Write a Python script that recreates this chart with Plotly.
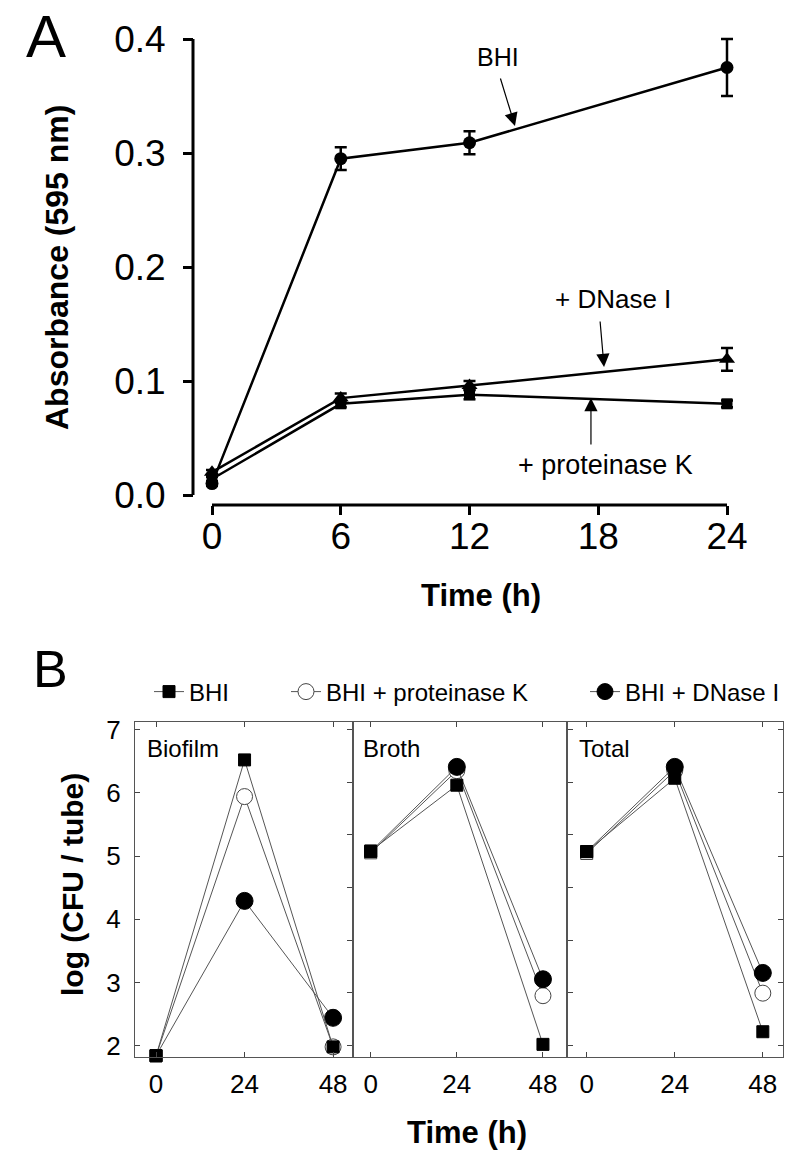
import plotly.graph_objects as go

W, H = 800, 1165
def fx(px): return px / W
def fy(py): return 1 - py / H

# ---------------- Panel A data ----------------
time_a = [0, 6, 12, 24]
bhi_a = [0.010, 0.295, 0.309, 0.375]
bhi_a_err = [0.002, 0.010, 0.010, 0.025]
dnase_a = [0.020, 0.085, 0.096, 0.119]
dnase_a_err = [0.002, 0.004, 0.004, 0.010]
prot_a = [0.014, 0.080, 0.088, 0.080]
prot_a_err = [0.002, 0.003, 0.004, 0.003]
ticks_a_x = [0, 6, 12, 18, 24]
ticks_a_y = [0.0, 0.1, 0.2, 0.3, 0.4]
ticklabels_a_y = ["0.0", "0.1", "0.2", "0.3", "0.4"]

# ---------------- Panel B data ----------------
time_b = [0, 24, 48]
panels_b = ["Biofilm", "Broth", "Total"]
bhi_b = {"Biofilm": [1.84, 6.52, 1.98], "Broth": [5.08, 6.12, 2.02], "Total": [5.07, 6.23, 2.22]}
prot_b = {"Biofilm": [1.84, 5.94, 1.98], "Broth": [5.05, 6.35, 2.79], "Total": [5.04, 6.35, 2.83]}
dnase_b = {"Biofilm": [1.84, 4.29, 2.44], "Broth": [5.07, 6.41, 3.05], "Total": [5.07, 6.41, 3.15]}
ticks_b_y = [2, 3, 4, 5, 6, 7]
minor_b_y = [2, 2.833, 3.667, 4.5, 5.333, 6.167, 7.0]

FONT = "Liberation Sans, Arial, sans-serif"

fig = go.Figure()

# Panel A traces
common_a = dict(xaxis="x", yaxis="y", mode="lines+markers", cliponaxis=False, showlegend=False)
fig.add_trace(go.Scatter(x=time_a, y=prot_a, name="+ proteinase K",
                         line=dict(color="black", width=2.5),
                         marker=dict(symbol="square", size=11, color="black"),
                         error_y=dict(type="data", array=prot_a_err, color="black", thickness=2.5, width=6),
                         **common_a))
fig.add_trace(go.Scatter(x=time_a, y=dnase_a, name="+ DNase I",
                         line=dict(color="black", width=2.5),
                         marker=dict(symbol="triangle-up", size=14, color="black"),
                         error_y=dict(type="data", array=dnase_a_err, color="black", thickness=2.5, width=6),
                         **common_a))
fig.add_trace(go.Scatter(x=time_a, y=bhi_a, name="BHI",
                         line=dict(color="black", width=2.5),
                         marker=dict(symbol="circle", size=13, color="black"),
                         error_y=dict(type="data", array=bhi_a_err, color="black", thickness=2.5, width=6),
                         **common_a))

# Panel B traces
LINE_B = dict(color="#555555", width=1)
series_b = [
    # name, data, legend, marker for 24/48 h, marker for the 0 h inoculum
    ("BHI + proteinase K", prot_b, "legend2",
     dict(symbol="circle", size=16, color="white", opacity=1, line=dict(color="#444444", width=1)),
     dict(symbol="square", size=12, color="white", opacity=1, line=dict(color="#444444", width=1))),
    ("BHI + DNase I", dnase_b, "legend3",
     dict(symbol="circle", size=17, color="black", opacity=1, line=dict(color="black", width=1)),
     dict(symbol="square", size=12, color="black", opacity=1, line=dict(color="black", width=1))),
    ("BHI", bhi_b, "legend",
     dict(symbol="square", size=12, color="black", opacity=1, line=dict(color="black", width=1)),
     dict(symbol="square", size=12, color="black", opacity=1, line=dict(color="black", width=1))),
]
axis_ids = [("x2", "y2"), ("x3", "y3"), ("x4", "y4")]
for i, p in enumerate(panels_b):
    xa, ya = axis_ids[i]
    for name, data, leg, mk, mk0 in series_b:
        vals = data[p]
        # segment 0 h -> 24 h
        fig.add_trace(go.Scatter(x=time_b[:2], y=vals[:2], xaxis=xa, yaxis=ya, mode="lines",
                                 name=name, legend=leg, showlegend=False, line=LINE_B))
        # inoculum marker at 0 h
        fig.add_trace(go.Scatter(x=time_b[:1], y=vals[:1], xaxis=xa, yaxis=ya, mode="markers",
                                 name=name, legend=leg, showlegend=False, cliponaxis=False, marker=mk0))
        # 24 h -> 48 h with markers
        fig.add_trace(go.Scatter(x=time_b[1:], y=vals[1:], xaxis=xa, yaxis=ya, mode="lines+markers",
                                 name=name, legend=leg, showlegend=(i == 0), cliponaxis=False,
                                 line=LINE_B, marker=mk))

# ---------------- Layout ----------------
pxh = (727 - 212) / 24.0
pyu = (495 - 39) / 0.4

ax_a = dict(showgrid=False, zeroline=False, showline=False, ticks="outside", automargin=False,
            tickwidth=3, tickcolor="black", tickfont=dict(family=FONT, size=37, color="black"))

b_frame = dict(showgrid=False, zeroline=False, showline=True, linecolor="#555555", linewidth=1,
               tickcolor="#444444", tickwidth=1, ticklen=5, automargin=False)
b_tickfont = dict(family=FONT, size=26, color="black")

legend_common = dict(orientation="h", yanchor="middle", xanchor="left", y=fy(692),
                     bgcolor="rgba(0,0,0,0)", font=dict(family=FONT, size=24, color="black"))

yB_dom = [fy(1057), fy(722)]
yB_rng = [1.82, 7.12]

fig.update_layout(
    width=W, height=H,
    margin=dict(l=0, r=0, t=0, b=0, pad=0, autoexpand=False),
    paper_bgcolor="white", plot_bgcolor="rgba(0,0,0,0)",
    font=dict(family=FONT, color="black"),
    xaxis=dict(domain=[fx(212 - pxh), fx(727 + pxh)], range=[-1, 25], anchor="free",
               position=fy(505), tickvals=ticks_a_x, ticklen=9, ticklabelstandoff=-10, **ax_a),
    yaxis=dict(domain=[fy(495 + 0.012 * pyu), fy(39 - 0.01 * pyu)], range=[-0.012, 0.41],
               anchor="free", position=fx(193), tickvals=ticks_a_y, ticktext=ticklabels_a_y,
               ticklen=10, ticklabelstandoff=10, **ax_a),
    xaxis2=dict(domain=[fx(135), fx(353)], range=[-5.7, 53.4], anchor="y2", tickvals=time_b,
                ticks="inside", mirror="ticks", ticklabelstandoff=4, tickfont=b_tickfont, **b_frame),
    xaxis3=dict(domain=[fx(353), fx(567)], range=[-4.93, 54.7], anchor="y3", tickvals=time_b,
                ticks="inside", mirror="ticks", ticklabelstandoff=4, tickfont=b_tickfont, **b_frame),
    xaxis4=dict(domain=[fx(567), fx(783)], range=[-5.37, 53.5], anchor="y4", tickvals=time_b,
                ticks="inside", mirror="ticks", ticklabelstandoff=4, tickfont=b_tickfont, **b_frame),
    yaxis2=dict(domain=yB_dom, range=yB_rng, anchor="x2", tickvals=ticks_b_y, ticks="inside",
                mirror=True, ticklabelstandoff=8, tickfont=b_tickfont, **b_frame),
    yaxis3=dict(domain=yB_dom, range=yB_rng, anchor="x3", tickvals=minor_b_y, ticks="outside",
                mirror="ticks", showticklabels=False, **b_frame),
    yaxis5=dict(domain=yB_dom, range=yB_rng, overlaying="y3", anchor="x3", tickvals=minor_b_y,
                ticks="inside", mirror="ticks", showticklabels=False, **b_frame),
    yaxis4=dict(domain=yB_dom, range=yB_rng, anchor="x4", side="right", tickvals=ticks_b_y,
                ticks="inside", mirror=True, showticklabels=False, **b_frame),
    legend=dict(x=fx(149), **legend_common),
    legend2=dict(x=fx(286), **legend_common),
    legend3=dict(x=fx(585), **legend_common),
)

# Axis lines for panel A (detached axes)
fig.add_shape(type="line", xref="x", yref="paper", x0=0, x1=24, y0=fy(505), y1=fy(505),
              line=dict(color="black", width=3))
fig.add_shape(type="line", xref="paper", yref="y", x0=fx(193), x1=fx(193), y0=0, y1=0.4,
              line=dict(color="black", width=3))

def txt(text, px, py, size, angle=0, xanchor="center"):
    return dict(text=text, x=fx(px), y=fy(py), xref="paper", yref="paper", showarrow=False,
                xanchor=xanchor, yanchor="middle", textangle=angle,
                font=dict(family=FONT, size=size, color="black"))

ann = []
ann.append(txt("A", 46, 36, 60))
ann.append(txt("B", 50, 669, 52))
ann.append(txt("<b>Absorbance (595 nm)</b>", 57, 268, 32, angle=-90))
ann.append(txt("<b>Time (h)</b>", 481, 595, 31))
ann.append(txt("<b>log (CFU / tube)</b>", 72, 885, 30, angle=-90))
ann.append(txt("<b>Time (h)</b>", 467, 1132, 31))
for name, px in zip(panels_b, [145, 361, 577]):
    ann.append(txt(name, px, 748, 24, xanchor="left"))

# Series labels in panel A
for text, x, y, size in [("BHI", 13.33, 0.3842, 25), ("+ DNase I", 18.69, 0.172, 26),
                         ("+ proteinase K", 18.36, 0.0263, 27)]:
    ann.append(dict(text=text, x=x, y=y, xref="x", yref="y", showarrow=False,
                    xanchor="center", yanchor="middle",
                    font=dict(family=FONT, size=size, color="black")))
# Arrows
for (tx, ty, sx, sy) in [(14.12, 0.3237, 13.42, 0.3667), (18.27, 0.1123, 18.08, 0.1535),
                         (17.66, 0.0851, 17.66, 0.043)]:
    ann.append(dict(text="", x=tx, y=ty, ax=sx, ay=sy, xref="x", yref="y", axref="x", ayref="y",
                    showarrow=True, arrowhead=2, arrowsize=2.2, arrowwidth=1.2, arrowcolor="black",
                    standoff=0, startstandoff=0))

fig.update_layout(annotations=ann)

fig.write_html("out.html", config={"displayModeBar": False},
               post_script="document.body.style.margin='0';document.body.style.overflow='hidden';")
